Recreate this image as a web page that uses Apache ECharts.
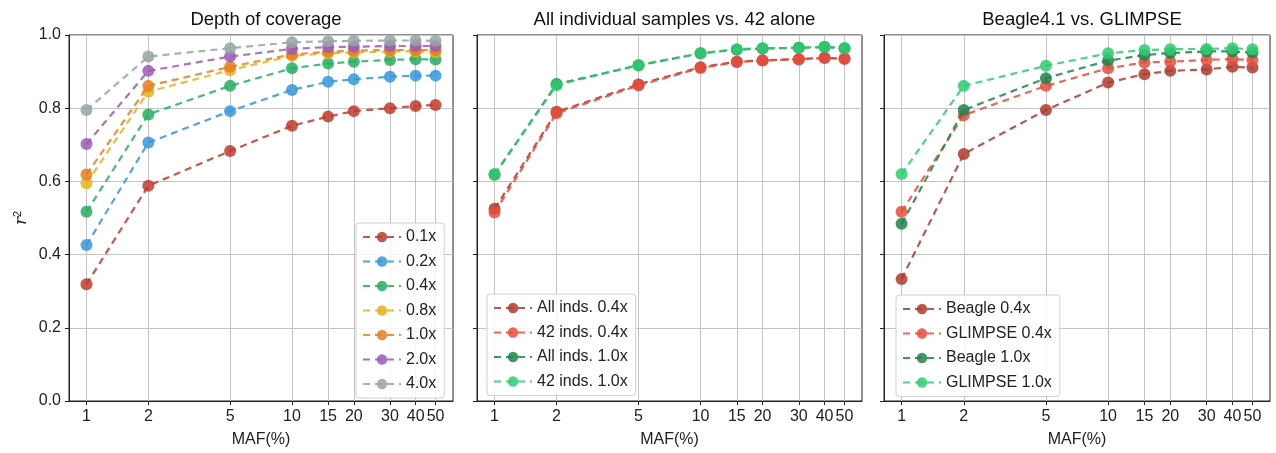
<!DOCTYPE html>
<html>
<head>
<meta charset="utf-8">
<script src="https://cdn.jsdelivr.net/npm/echarts@6/dist/echarts.min.js"></script>
<style>
html,body{margin:0;padding:0;background:#fff;}
#chart{width:1276px;height:453px;}
</style>
</head>
<body>
<div id="chart"></div>
<script>
// ---- data ----
const maf = [1, 2, 5, 10, 15, 20, 30, 40, 50];
const yTicks = [0, 0.2, 0.4, 0.6, 0.8, 1.0];
const titles = ['Depth of coverage', 'All individual samples vs. 42 alone', 'Beagle4.1 vs. GLIMPSE'];

const depthNames = ['0.1x', '0.2x', '0.4x', '0.8x', '1.0x', '2.0x', '4.0x'];
const d01 = [0.319, 0.588, 0.683, 0.752, 0.777, 0.792, 0.800, 0.806, 0.809];
const d02 = [0.426, 0.706, 0.792, 0.850, 0.872, 0.879, 0.886, 0.889, 0.889];
const d04 = [0.517, 0.783, 0.861, 0.909, 0.922, 0.927, 0.932, 0.934, 0.933];
const d08 = [0.595, 0.845, 0.904, 0.943, 0.950, 0.952, 0.955, 0.955, 0.953];
const d10 = [0.619, 0.861, 0.913, 0.947, 0.954, 0.957, 0.959, 0.959, 0.959];
const d20 = [0.702, 0.902, 0.941, 0.962, 0.967, 0.968, 0.970, 0.970, 0.970];
const d40 = [0.795, 0.941, 0.964, 0.980, 0.983, 0.984, 0.985, 0.985, 0.984];

const sampleNames = ['All inds. 0.4x', '42 inds. 0.4x', 'All inds. 1.0x', '42 inds. 1.0x'];
const all04 = [0.525, 0.790, 0.865, 0.912, 0.927, 0.931, 0.934, 0.938, 0.935];
const s42_04 = [0.515, 0.786, 0.862, 0.910, 0.926, 0.930, 0.934, 0.937, 0.935];
const all10 = [0.618, 0.866, 0.917, 0.950, 0.960, 0.963, 0.965, 0.967, 0.964];
const s42_10 = [0.620, 0.863, 0.918, 0.950, 0.961, 0.964, 0.965, 0.968, 0.964];

const toolNames = ['Beagle 0.4x', 'GLIMPSE 0.4x', 'Beagle 1.0x', 'GLIMPSE 1.0x'];
const b04 = [0.333, 0.675, 0.795, 0.870, 0.893, 0.902, 0.906, 0.913, 0.911];
const g04 = [0.517, 0.781, 0.861, 0.909, 0.925, 0.927, 0.932, 0.934, 0.932];
const b10 = [0.484, 0.795, 0.882, 0.930, 0.945, 0.951, 0.955, 0.955, 0.952];
const g10 = [0.620, 0.861, 0.916, 0.950, 0.959, 0.961, 0.962, 0.964, 0.961];

// ---- styles ----
const depthColors = ['#c0392b', '#3498db', '#27ae60', '#e5b31f', '#e67e22', '#9b59b6', '#95a5a6'];
const pairColors = ['#b03a2e', '#e74c3c', '#1e8449', '#2ecc71'];

const panels = [
  {left: 69, width: 384, names: depthNames, data: [d01, d02, d04, d08, d10, d20, d40], colors: depthColors,
   legend: {left: 356, top: 223}},
  {left: 477, width: 385, names: sampleNames, data: [all04, s42_04, all10, s42_10], colors: pairColors,
   legend: {left: 487, top: 294}},
  {left: 884, width: 386, names: toolNames, data: [b04, g04, b10, g10], colors: pairColors,
   legend: {left: 896, top: 295}}
];

const font = 'Liberation Sans, Arial, Helvetica, sans-serif';
const grids = [], xAxes = [], yAxes = [], series = [], legends = [], titleOpts = [];

panels.forEach((p, i) => {
  grids.push({left: p.left, width: p.width, top: 35, bottom: 52, show: true,
    borderColor: '#222', borderWidth: 1, backgroundColor: 'transparent', containLabel: false});
  xAxes.push({
    type: 'log', gridIndex: i, logBase: 10, min: 0.822, max: 60.8,
    name: 'MAF(%)', nameLocation: 'middle', nameGap: 31,
    nameTextStyle: {fontSize: 16, color: '#222', fontFamily: font},
    axisLine: {show: true, lineStyle: {color: '#222', width: 1}},
    axisTick: {show: true, inside: false, length: 4, customValues: maf, lineStyle: {color: '#222'}},
    axisLabel: {show: true, customValues: maf, margin: 8, fontSize: 16, color: '#222', fontFamily: font,
      formatter: v => String(Math.round(v))},
    splitLine: {show: true, lineStyle: {color: '#c4c4c4', width: 1}},
    minorTick: {show: false}, minorSplitLine: {show: false}
  });
  yAxes.push({
    type: 'value', gridIndex: i, min: 0, max: 1, interval: 0.2,
    name: i === 0 ? '{r|r}{s|2}' : '', nameLocation: 'middle', nameGap: 38, nameRotate: 90,
    nameTextStyle: {fontFamily: font, color: '#222',
      rich: {r: {fontSize: 17, fontStyle: 'italic', fontFamily: 'DejaVu Serif', color: '#222'},
             s: {fontSize: 11, verticalAlign: 'top', color: '#222', padding: [0, 0, 8, 0]}}},
    axisLine: {show: true, lineStyle: {color: '#222', width: 1}},
    axisTick: {show: true, inside: false, length: 4, lineStyle: {color: '#222'}},
    axisLabel: {show: i === 0, margin: 8, fontSize: 16, color: '#222', fontFamily: font,
      formatter: v => v.toFixed(1)},
    splitLine: {show: true, lineStyle: {color: '#c4c4c4', width: 1}}
  });
  titleOpts.push({text: titles[i], left: p.left + p.width / 2, top: 5, textAlign: 'center',
    textStyle: {fontSize: 18.5, fontWeight: 'normal', color: '#111', fontFamily: font}});
  p.names.forEach((n, k) => {
    series.push({
      name: n, type: 'line', xAxisIndex: i, yAxisIndex: i,
      data: maf.map((m, j) => [m, p.data[k][j]]),
      symbol: 'circle', symbolSize: 12, showSymbol: true,
      itemStyle: {color: p.colors[k], opacity: 0.85, borderWidth: 0},
      lineStyle: {color: p.colors[k], width: 2.2, type: [7, 5], opacity: 0.85},
      emphasis: {disabled: true}, animation: false, z: 2 + k
    });
  });
  legends.push({
    data: p.names, orient: 'vertical', left: p.legend.left, top: p.legend.top,
    itemWidth: 38, itemHeight: 13, itemGap: 8.5,
    padding: [6, 8, 6, 6], backgroundColor: 'rgba(255,255,255,0.85)',
    borderColor: '#d0d0d0', borderWidth: 1, borderRadius: 3,
    textStyle: {fontSize: 16, color: '#222', fontFamily: font},
    selectedMode: false
  });
});

const chart = echarts.init(document.getElementById('chart'), null, {renderer: 'canvas'});
chart.setOption({
  backgroundColor: '#fff',
  animation: false,
  title: titleOpts,
  grid: grids, xAxis: xAxes, yAxis: yAxes, legend: legends, series: series
});
</script>
</body>
</html>
